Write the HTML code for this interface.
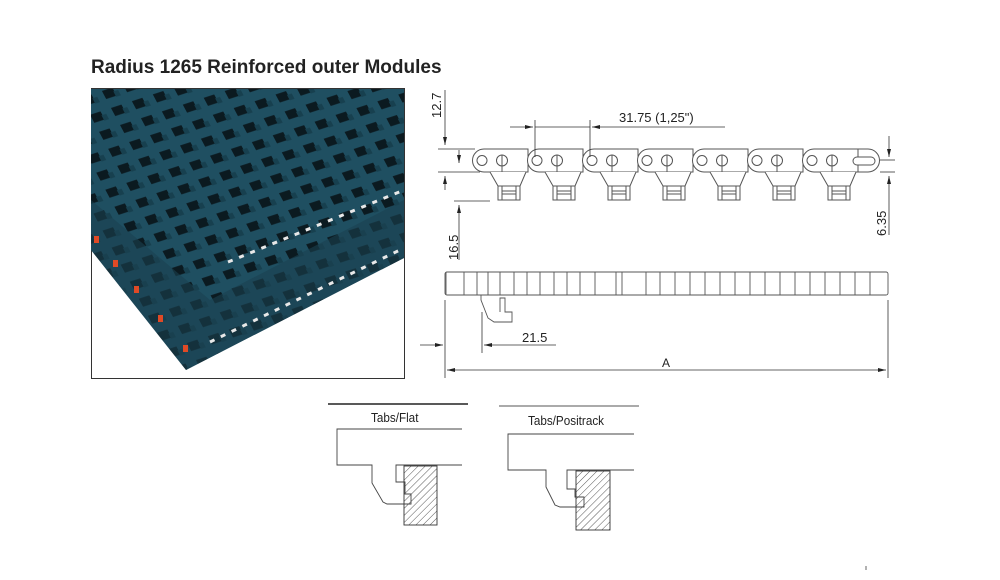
<!DOCTYPE html>
<html><head><meta charset="utf-8"><style>
html,body{margin:0;padding:0;background:#fff;}
svg{display:block;}
text{font-family:"Liberation Sans",sans-serif;}
</style></head><body>
<svg width="1000" height="580" viewBox="0 0 1000 580" xmlns="http://www.w3.org/2000/svg">
<defs>
<pattern id="belt" width="22" height="19" patternUnits="userSpaceOnUse" patternTransform="rotate(-18) skewX(10)">
<rect width="22" height="19" fill="#1f4f61"/>
<rect x="4" y="4" width="11" height="9" fill="#0b1a20"/>
<rect x="14" y="8" width="5" height="6" fill="#17404f"/>
</pattern>
<pattern id="hatch" width="5" height="5" patternUnits="userSpaceOnUse" patternTransform="rotate(45)">
<line x1="0" y1="0" x2="0" y2="5" stroke="#444" stroke-width="0.9"/>
</pattern>
<marker id="ar" markerWidth="8" markerHeight="6" refX="8" refY="3" orient="auto" markerUnits="userSpaceOnUse"><path d="M0,1 L8,3 L0,5 Z" fill="#222"/></marker>
</defs>

<text x="91" y="73" font-size="19" font-weight="bold" fill="#222">Radius 1265 Reinforced outer Modules</text>

<!-- photo -->
<rect x="91.5" y="88.5" width="313" height="290" fill="#fff" stroke="#333"/>
<polygon points="91,89 404,89 404,258 186,370 91,250" fill="url(#belt)"/>
<polygon points="91,200 210,300 404,200 404,258 186,370 91,250" fill="#1b4150" opacity="0.6"/>
<g stroke="#e8e8e8" stroke-width="3" stroke-dasharray="5 7">
<line x1="228" y1="262" x2="404" y2="190"/>
<line x1="210" y1="342" x2="404" y2="248"/>
</g>
<g fill="#e04a26">
<rect x="94" y="236" width="5" height="7"/><rect x="113" y="260" width="5" height="7"/><rect x="134" y="286" width="5" height="7"/><rect x="158" y="315" width="5" height="7"/><rect x="183" y="345" width="5" height="7"/>
</g>

<!-- top view chain -->
<g stroke="#555" stroke-width="1" fill="#fff">
<g id="m">
<path d="M484,149 H528 V172 H484 A11.5,11.5 0 0 1 484,149 Z"/>
<circle cx="482" cy="160.5" r="5"/>
<circle cx="502" cy="160.5" r="5.5"/>
<line x1="502" y1="155" x2="502" y2="172"/>
<path d="M490,172 L498,186 V200 H520 V186 L526,172"/>
<line x1="498" y1="186" x2="520" y2="186"/>
<line x1="502" y1="186" x2="502" y2="200"/>
<line x1="516" y1="186" x2="516" y2="200"/>
<line x1="502" y1="191" x2="516" y2="191"/>
<line x1="502" y1="194" x2="516" y2="194"/>
</g>
<use href="#m" x="55"/><use href="#m" x="110"/><use href="#m" x="165"/><use href="#m" x="220"/><use href="#m" x="275"/><use href="#m" x="330"/>
<path d="M858,149 H868 A11.5,11.5 0 0 1 868,172 H858 Z"/>
<rect x="853" y="157" width="22" height="8" rx="4"/>
</g>
<g stroke="#333" stroke-width="0.8" fill="none">
<line x1="438" y1="149" x2="475" y2="149"/>
<line x1="438" y1="172" x2="480" y2="172"/>
<line x1="454" y1="201" x2="490" y2="201"/>
<line x1="445" y1="90" x2="445" y2="145" marker-end="url(#ar)"/>
<line x1="445" y1="190" x2="445" y2="176" marker-end="url(#ar)"/>
<line x1="459" y1="150" x2="459" y2="163" marker-end="url(#ar)"/>
<line x1="459" y1="260" x2="459" y2="205" marker-end="url(#ar)"/>
<line x1="535" y1="120" x2="535" y2="157"/>
<line x1="590" y1="120" x2="590" y2="157"/>
<line x1="510" y1="127" x2="533" y2="127" marker-end="url(#ar)"/>
<line x1="725" y1="127" x2="592" y2="127" marker-end="url(#ar)"/>
<line x1="535" y1="127" x2="590" y2="127"/>
<line x1="880" y1="160" x2="895" y2="160"/>
<line x1="880" y1="172" x2="895" y2="172"/>
<line x1="889" y1="136" x2="889" y2="157" marker-end="url(#ar)"/>
<line x1="889" y1="235" x2="889" y2="176" marker-end="url(#ar)"/>
</g>
<g font-size="13" fill="#222">
<text x="619" y="122">31.75 (1,25")</text>
<text transform="translate(441 118) rotate(-90)">12.7</text>
<text transform="translate(458 260) rotate(-90)">16.5</text>
<text transform="translate(886 236) rotate(-90)">6.35</text>
</g>

<!-- side view -->
<g stroke="#555" stroke-width="0.9" fill="none">
<rect x="445" y="272" width="443" height="23" rx="2"/>
<path d="M446,272 v23 M464,272 v23 M477,272 v23 M488,272 v23 M500,272 v23 M514,272 v23 M527,272 v23 M540,272 v23 M554,272 v23 M567,272 v23 M580,272 v23 M595,272 v23 M616,272 v23 M622,272 v23 M646,272 v23 M660,272 v23 M675,272 v23 M690,272 v23 M705,272 v23 M720,272 v23 M735,272 v23 M750,272 v23 M765,272 v23 M780,272 v23 M795,272 v23 M810,272 v23 M825,272 v23 M840,272 v23 M855,272 v23 M870,272 v23"/>
<path d="M481,295 V300 L488,318 L494,322 H512 V312 H505 V298 H500 V312"/>
</g>
<g stroke="#333" stroke-width="0.8" fill="none">
<line x1="445" y1="300" x2="445" y2="378"/>
<line x1="888" y1="300" x2="888" y2="378"/>
<line x1="482" y1="312" x2="482" y2="353"/>
<line x1="420" y1="345" x2="443" y2="345" marker-end="url(#ar)"/>
<line x1="556" y1="345" x2="484" y2="345" marker-end="url(#ar)"/>
<line x1="456" y1="370" x2="447" y2="370" marker-end="url(#ar)"/>
<line x1="456" y1="370" x2="877" y2="370"/>
<line x1="877" y1="370" x2="886" y2="370" marker-end="url(#ar)"/>
</g>
<text x="522" y="342" font-size="13" fill="#222">21.5</text>
<text x="662" y="367" font-size="12" fill="#222">A</text>

<!-- tabs flat -->
<line x1="328" y1="404" x2="468" y2="404" stroke="#222" stroke-width="1.5"/>
<text x="371" y="422" font-size="13" fill="#222" transform="translate(371 0) scale(0.9 1) translate(-371 0)">Tabs/Flat</text>
<g stroke="#444" stroke-width="0.9" fill="none">
<path d="M462,429 H337 V465 H372 V483 L383,502 L387,504 H411 V494 H405 V482 H396 V465 H462"/>
<rect x="404" y="466" width="33" height="59" fill="url(#hatch)" stroke="#333"/>
</g>
<!-- tabs positrack -->
<line x1="499" y1="406" x2="639" y2="406" stroke="#555" stroke-width="1"/>
<text x="528" y="425" font-size="13" fill="#222" transform="translate(528 0) scale(0.9 1) translate(-528 0)">Tabs/Positrack</text>
<g stroke="#444" stroke-width="0.9" fill="none">
<path d="M634,434 H508 V470 H546 V487 L555,505 L560,507 H584 V497 H575 V489 H567 V470 H634"/>
<rect x="576" y="471" width="34" height="59" fill="url(#hatch)" stroke="#333"/>
</g>
<line x1="866" y1="566" x2="866" y2="570" stroke="#666"/>
</svg>
</body></html>
